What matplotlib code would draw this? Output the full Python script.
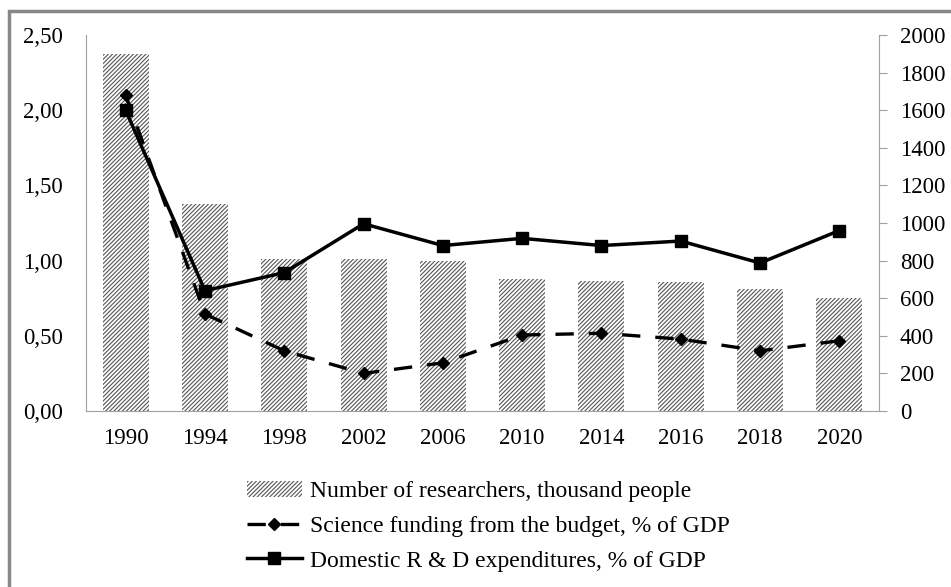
import matplotlib
matplotlib.use("Agg")
import matplotlib.pyplot as plt
from matplotlib.patches import Rectangle
from matplotlib.ticker import FuncFormatter
import numpy as np

years = ["1990", "1994", "1998", "2002", "2006", "2010", "2014", "2016", "2018", "2020"]
researchers = [1900, 1100, 808, 808, 798, 702, 692, 686, 650, 601]
budget_funding = [2.10, 0.645, 0.40, 0.25, 0.32, 0.505, 0.517, 0.478, 0.40, 0.467]
rd_expenditures = [2.00, 0.80, 0.92, 1.245, 1.10, 1.148, 1.10, 1.13, 0.984, 1.20]

plt.rcParams['font.family'] = ['Liberation Serif', 'DejaVu Serif']
plt.rcParams['hatch.linewidth'] = 0.8
plt.rcParams['hatch.color'] = '#555555'

W, H = 951, 587
fig = plt.figure(figsize=(W / 100, H / 100), dpi=100)
ax = fig.add_axes([86 / W, 1 - 411 / H, (879 - 86) / W, (411 - 35) / H])
ax2 = ax.twinx()

x = np.arange(len(years))
gray = '#a0a0a0'

bars = ax2.bar(x, researchers, width=0.58, color='white', edgecolor='#555555',
               hatch='////////', linewidth=0,
               label='Number of researchers, thousand people')
ax2.set_ylim(0, 2000)
ax2.set_yticks(np.arange(0, 2001, 200))

ax.set_zorder(ax2.get_zorder() + 1)
ax.patch.set_visible(False)

l1, = ax.plot(x, budget_funding, color='black', lw=2.4, ls=(0, (5.5, 4.5)),
              marker='D', markersize=6, label='Science funding from the budget, % of GDP')
l2, = ax.plot(x, rd_expenditures, color='black', lw=2.5, marker='s', markersize=8,
              label='Domestic R & D expenditures, % of GDP')

ax.set_ylim(0, 2.5)
ax.set_yticks(np.arange(0, 2.51, 0.5))
ax.yaxis.set_major_formatter(FuncFormatter(lambda v, p: f"{v:.2f}".replace('.', ',')))
ax.set_xlim(-0.5, len(years) - 0.5)
ax.set_xticks(x)
ax.set_xticklabels(years)

for a in (ax, ax2):
    for s in a.spines.values():
        s.set_visible(False)
ax.spines['left'].set_visible(True)
ax.spines['left'].set_color(gray)
ax.spines['bottom'].set_visible(True)
ax.spines['bottom'].set_color(gray)
ax2.spines['right'].set_visible(True)
ax2.spines['right'].set_color(gray)

fs = 16.5
ax.tick_params(axis='y', length=0, labelsize=fs, pad=16.5)
ax.tick_params(axis='x', length=0, labelsize=fs, pad=12)
ax2.tick_params(axis='y', length=6, color=gray, labelsize=fs, pad=9)

fig.legend([bars, l1, l2],
           ['Number of researchers, thousand people',
            'Science funding from the budget, % of GDP',
            'Domestic R & D expenditures, % of GDP'],
           loc='upper left', bbox_to_anchor=(230 / W, 1 - 464 / H),
           frameon=False, fontsize=17, handlelength=2.35, handletextpad=0.35,
           labelspacing=0.56, borderpad=0.2)

fig.patches.append(Rectangle((8.5 / W, -0.05), 1.2, 1 - 11 / H + 0.05,
                             transform=fig.transFigure, fill=False,
                             edgecolor='#888888', linewidth=2.5))

fig.savefig('out.png', dpi=100)
